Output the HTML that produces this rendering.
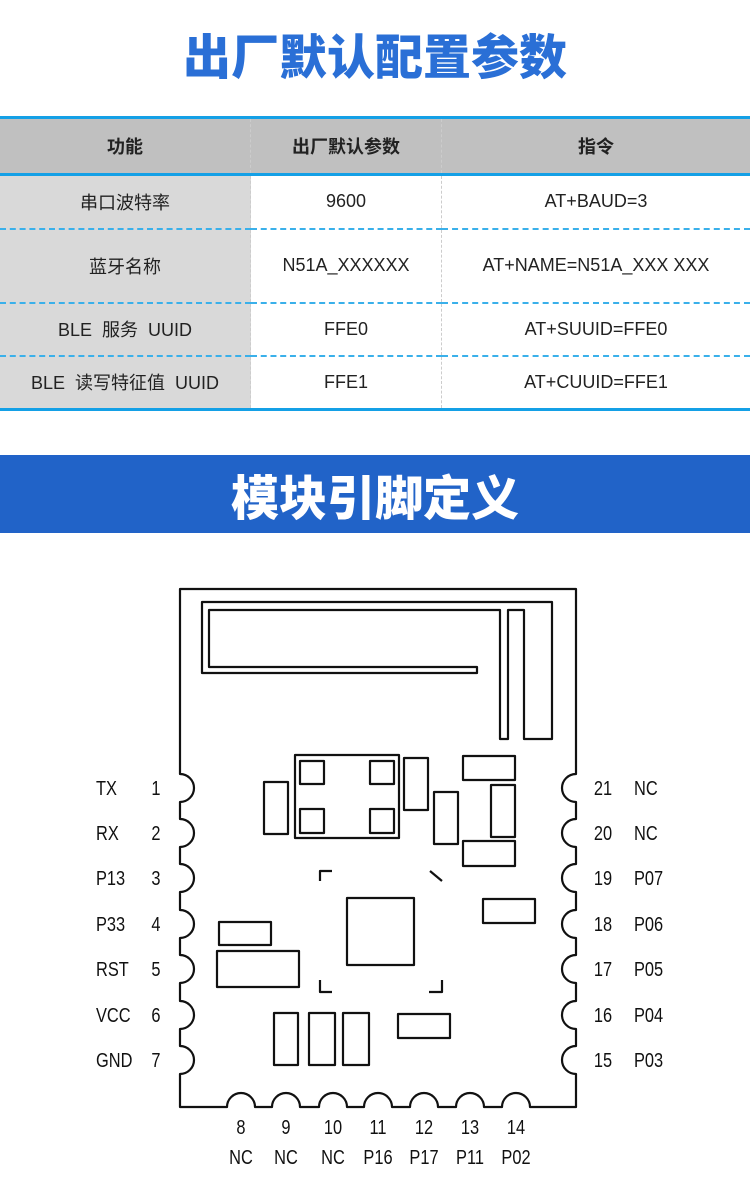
<!DOCTYPE html>
<html><head><meta charset="utf-8"><style>
body{margin:0;width:750px;height:1179px;background:#fff;overflow:hidden;font-family:"Liberation Sans","Noto Sans CJK SC",sans-serif;position:relative}
.t{position:absolute;left:0;width:750px;text-align:center;font-weight:900;font-size:48px;font-family:"Noto Sans CJK SC",sans-serif}
table{position:absolute;left:0;top:116px;width:750px;border-collapse:collapse;font-size:18px;color:#222}
td{text-align:center;padding:0;border-left:1px dashed #ccc}
tr.h td{background:#c0c0c0;font-weight:bold;height:54px;border-top:3px solid #14a0e6;border-bottom:3px solid #14a0e6}
td.c1{background:#d9d9d9;border-left:none}
tr.r td{border-bottom:2px dashed #3ab0ea}
tr.last td{border-bottom:3px solid #14a0e6}
svg text{font-family:"Liberation Sans",sans-serif;font-size:20px;fill:#111}
</style></head><body>
<div class="t" style="top:20px;color:#2a6fd6;line-height:66px">出厂默认配置参数</div>
<table>
<tr class="h"><td class="c1" style="width:250px;background:#c0c0c0">功能</td><td style="width:190px">出厂默认参数</td><td>指令</td></tr>
<tr class="r" style="height:54px"><td class="c1">串口波特率</td><td>9600</td><td>AT+BAUD=3</td></tr>
<tr class="r" style="height:74px"><td class="c1">蓝牙名称</td><td>N51A_XXXXXX</td><td>AT+NAME=N51A_XXX XXX</td></tr>
<tr class="r" style="height:53px"><td class="c1">BLE&nbsp; 服务&nbsp; UUID</td><td>FFE0</td><td>AT+SUUID=FFE0</td></tr>
<tr class="last" style="height:54px"><td class="c1">BLE&nbsp; 读写特征值&nbsp; UUID</td><td>FFE1</td><td>AT+CUUID=FFE1</td></tr>
</table>
<div style="position:absolute;left:0;top:455px;width:750px;height:78px;background:#2163c8"></div>
<div class="t" style="top:455px;color:#fff;line-height:78px">模块引脚定义</div>
<svg width="750" height="1179" style="position:absolute;left:0;top:0" id="s">
<g fill="none" stroke="#111" stroke-width="2.2" stroke-linejoin="round">
<path id="outline"/>
<path d="M202,602H552V739H524V610H508V739H500V610H209V667H477V673H202Z"/>
<rect x="295" y="755" width="104" height="83"/>
<rect x="300" y="761" width="24" height="23"/><rect x="370" y="761" width="24" height="23"/>
<rect x="300" y="809" width="24" height="24"/><rect x="370" y="809" width="24" height="24"/>
<rect x="264" y="782" width="24" height="52"/>
<rect x="404" y="758" width="24" height="52"/>
<rect x="434" y="792" width="24" height="52"/>
<rect x="463" y="756" width="52" height="24"/>
<rect x="491" y="785" width="24" height="52"/>
<rect x="463" y="841" width="52" height="25"/>
<path d="M320,881V871H332M430,871L442,881M320,980V992H332M442,980V992H429"/>
<rect x="347" y="898" width="67" height="67"/>
<rect x="483" y="899" width="52" height="24"/>
<rect x="219" y="922" width="52" height="23"/>
<rect x="217" y="951" width="82" height="36"/>
<rect x="274" y="1013" width="24" height="52"/><rect x="309" y="1013" width="26" height="52"/><rect x="343" y="1013" width="26" height="52"/>
<rect x="398" y="1014" width="52" height="24"/>
</g>
<g id="lbl"></g>
</svg>
<script>
var ys=[788,833,878,924,969,1015,1060],xs=[241,286,333,378,424,470,516],r=14;
var d="M180,589H576";
for(var i=0;i<7;i++){d+="V"+(ys[i]-r)+"A"+r+","+r+" 0 0 0 576,"+(ys[i]+r);}
d+="V1107";
for(var i=6;i>=0;i--){d+="H"+(xs[i]+r)+"A"+r+","+r+" 0 0 0 "+(xs[i]-r)+",1107";}
d+="H180";
for(var i=6;i>=0;i--){d+="V"+(ys[i]+r)+"A"+r+","+r+" 0 0 0 180,"+(ys[i]-r);}
d+="Z";
document.getElementById("outline").setAttribute("d",d);
var L=["TX","RX","P13","P33","RST","VCC","GND"],R=["NC","NC","P07","P06","P05","P04","P03"],B=["NC","NC","NC","P16","P17","P11","P02"];
var h="";
function t(x,y,s,a){return '<text x="'+x+'" y="'+y+'" text-anchor="'+(a||"start")+'" transform="translate('+x+' 0) scale(0.82 1) translate('+(-x)+' 0)">'+s+'</text>';}
for(var i=0;i<7;i++){
h+=t(96,ys[i]+7,L[i]);h+=t(156,ys[i]+7,i+1,"middle");
h+=t(603,ys[i]+7,21-i,"middle");h+=t(634,ys[i]+7,R[i]);
h+=t(xs[i],1134,i+8,"middle");h+=t(xs[i],1164,B[i],"middle");}
document.getElementById("lbl").innerHTML=h;
</script>
</body></html>
